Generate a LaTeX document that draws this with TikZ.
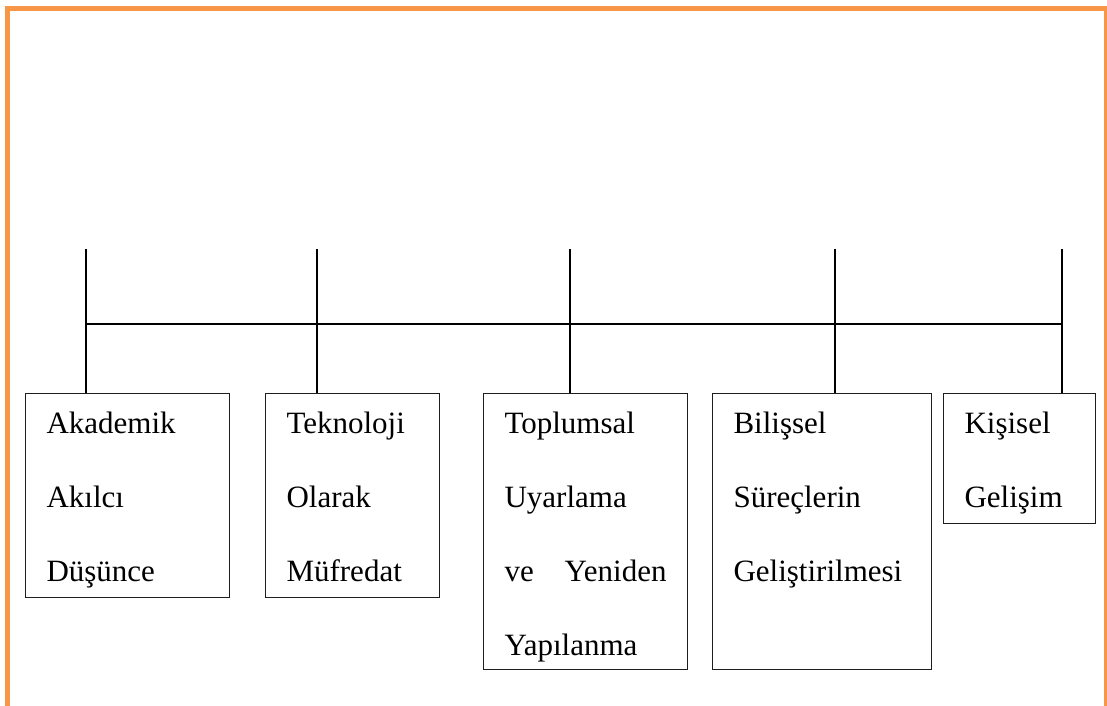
\documentclass[tikz,border=0pt]{standalone}
\usepackage{fontspec}
\setmainfont{Liberation Serif}
\usepackage{xcolor}
\usepackage{tikz}
\usetikzlibrary{positioning,calc}
\definecolor{turuncu}{RGB}{247, 150, 70}
\definecolor{kutukenar}{RGB}{30, 30, 30}

\begin{document}
\begin{tikzpicture}[x=0.75pt, y=-0.75pt,
    kutu/.style={draw=kutukenar, line width=0.8pt, anchor=north west,
        inner xsep=15.75pt, inner ysep=0pt, align=left,
        font=\fontsize{23.25}{55.5}\selectfont, text height=30pt},
    hat/.style={line width=1.5pt, black},
    cerceve/.style={line width=3.75pt, turuncu}]
    \useasboundingbox (0,0) rectangle (1107,706);

    % Orange frame (open at the bottom)
    \draw[cerceve] (7.5,706) -- (7.5,8.5) -- (1106.5,8.5) -- (1106.5,706);

    % Boxes
    \node[kutu, text width=121.5pt, text depth=123pt] (b1) at (25,393)
        {Akademik\\Akılcı\\Düşünce};
    \node[kutu, text width=99pt, text depth=123pt] (b2) at (265,393)
        {Teknoloji\\Olarak\\Müfredat};
    \node[kutu, text width=121.5pt, text depth=177pt] (b3) at (483,393)
        {Toplumsal\\Uyarlama\\\makebox[121.5pt][l]{ve\hfill Yeniden}\\Yapılanma};
    \node[kutu, text width=132.75pt, text depth=177pt] (b4) at (712,393)
        {Bilişsel\\Süreçlerin\\Geliştirilmesi};
    \node[kutu, text width=82.5pt, text depth=67.5pt] (b5) at (943,393)
        {Kişisel\\Gelişim};

    % Top ends of the branches
    \coordinate (t1) at (86,249);
    \coordinate (t2) at (317,249);
    \coordinate (t3) at (570,249);
    \coordinate (t4) at (835,249);
    \coordinate (t5) at (1062,249);

    % Horizontal bar
    \coordinate (k1) at (86,324);
    \coordinate (k5) at (1062,324);
    \draw[hat] (k1) -- (k5);

    % Branches down to the boxes
    \draw[hat] (t1) -- (t1 |- b1.north);
    \draw[hat] (t2) -- (t2 |- b2.north);
    \draw[hat] (t3) -- (t3 |- b3.north);
    \draw[hat] (t4) -- (t4 |- b4.north);
    \draw[hat] (t5) -- (t5 |- b5.north);
\end{tikzpicture}
\end{document}
